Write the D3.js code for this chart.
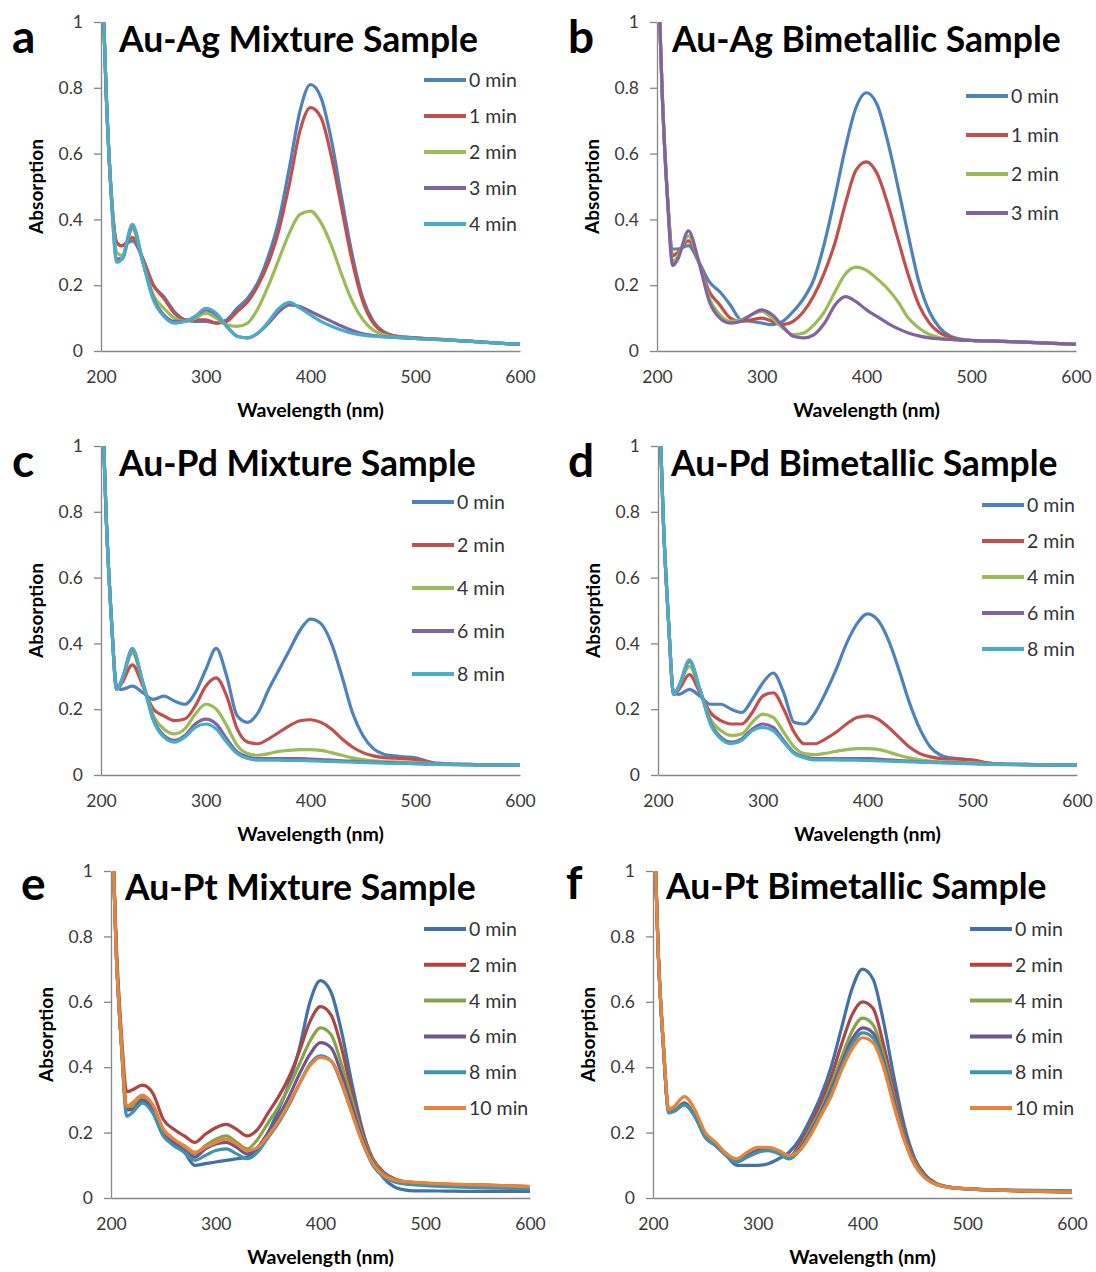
<!DOCTYPE html>
<html>
<head>
<meta charset="utf-8">
<script src="https://cdn.jsdelivr.net/npm/d3@7"></script>
<style>
  body { margin: 0; background: #fff; }
  svg { font-family: Lato, "Open Sans", sans-serif; }
</style>
</head>
<body>
<div id="main"></div>
<script>
// wavelength grid (nm), shared by every spectrum
const wavelength = [200, 205, 210, 215, 220, 230, 240, 250, 260, 270, 280, 290, 300, 310, 320, 330, 340, 350, 360, 370, 380, 390, 400, 410, 420, 430, 440, 450, 460, 470, 480, 490, 500, 520, 550, 600];
const xTicks = [200, 300, 400, 500, 600];
const yTicks = [0, 0.2, 0.4, 0.6, 0.8, 1];

const timesAg = ["0 min", "1 min", "2 min", "3 min", "4 min"];
const timesAgBi = ["0 min", "1 min", "2 min", "3 min"];
const timesPd = ["0 min", "2 min", "4 min", "6 min", "8 min"];
const timesPt = ["0 min", "2 min", "4 min", "6 min", "8 min", "10 min"];

// a: Au-Ag mixture
const auAgMixture = [
  [1.25, 0.78, 0.47, 0.33, 0.32, 0.335, 0.28, 0.20, 0.165, 0.12, 0.095, 0.09, 0.09, 0.085, 0.095, 0.13, 0.16, 0.21, 0.29, 0.40, 0.56, 0.73, 0.81, 0.77, 0.64, 0.46, 0.29, 0.16, 0.09, 0.058, 0.046, 0.042, 0.040, 0.036, 0.030, 0.020],
  [1.25, 0.78, 0.47, 0.33, 0.32, 0.345, 0.28, 0.20, 0.16, 0.115, 0.095, 0.095, 0.095, 0.085, 0.09, 0.12, 0.15, 0.20, 0.27, 0.37, 0.51, 0.67, 0.74, 0.71, 0.59, 0.43, 0.27, 0.15, 0.085, 0.056, 0.045, 0.042, 0.040, 0.036, 0.030, 0.020],
  [1.25, 0.78, 0.47, 0.30, 0.29, 0.37, 0.27, 0.17, 0.13, 0.10, 0.09, 0.10, 0.115, 0.10, 0.08, 0.075, 0.085, 0.13, 0.20, 0.28, 0.36, 0.415, 0.425, 0.39, 0.32, 0.23, 0.15, 0.095, 0.063, 0.049, 0.042, 0.040, 0.038, 0.035, 0.030, 0.020],
  [1.25, 0.78, 0.46, 0.28, 0.28, 0.38, 0.27, 0.16, 0.11, 0.09, 0.09, 0.105, 0.125, 0.11, 0.075, 0.045, 0.04, 0.055, 0.085, 0.12, 0.14, 0.135, 0.12, 0.105, 0.09, 0.075, 0.062, 0.052, 0.047, 0.044, 0.041, 0.040, 0.038, 0.035, 0.030, 0.020],
  [1.25, 0.78, 0.46, 0.27, 0.28, 0.385, 0.27, 0.155, 0.105, 0.085, 0.09, 0.105, 0.13, 0.115, 0.075, 0.045, 0.04, 0.055, 0.09, 0.13, 0.148, 0.13, 0.11, 0.09, 0.075, 0.063, 0.054, 0.048, 0.045, 0.043, 0.041, 0.040, 0.038, 0.035, 0.030, 0.020]
];

// b: Au-Ag bimetallic
const auAgBimetallic = [
  [1.25, 0.78, 0.47, 0.31, 0.31, 0.32, 0.27, 0.21, 0.18, 0.14, 0.095, 0.09, 0.085, 0.08, 0.09, 0.12, 0.16, 0.22, 0.33, 0.47, 0.62, 0.74, 0.785, 0.75, 0.64, 0.50, 0.35, 0.21, 0.12, 0.07, 0.045, 0.036, 0.032, 0.030, 0.027, 0.020],
  [1.25, 0.78, 0.47, 0.29, 0.30, 0.335, 0.27, 0.18, 0.14, 0.10, 0.09, 0.095, 0.10, 0.09, 0.08, 0.09, 0.12, 0.17, 0.24, 0.33, 0.45, 0.55, 0.575, 0.54, 0.45, 0.34, 0.23, 0.14, 0.085, 0.055, 0.042, 0.035, 0.032, 0.030, 0.027, 0.020],
  [1.25, 0.78, 0.47, 0.27, 0.29, 0.35, 0.27, 0.16, 0.11, 0.09, 0.095, 0.11, 0.12, 0.10, 0.07, 0.05, 0.055, 0.08, 0.12, 0.18, 0.235, 0.255, 0.245, 0.22, 0.19, 0.15, 0.10, 0.07, 0.05, 0.04, 0.035, 0.033, 0.032, 0.030, 0.027, 0.020],
  [1.25, 0.78, 0.46, 0.26, 0.28, 0.365, 0.27, 0.15, 0.10, 0.085, 0.09, 0.11, 0.125, 0.11, 0.075, 0.045, 0.04, 0.05, 0.085, 0.14, 0.165, 0.15, 0.125, 0.105, 0.085, 0.068, 0.055, 0.046, 0.04, 0.037, 0.035, 0.033, 0.032, 0.030, 0.027, 0.020]
];

// c: Au-Pd mixture
const auPdMixture = [
  [1.25, 0.78, 0.47, 0.27, 0.26, 0.27, 0.25, 0.23, 0.24, 0.225, 0.215, 0.25, 0.32, 0.385, 0.30, 0.18, 0.16, 0.19, 0.26, 0.32, 0.38, 0.44, 0.474, 0.46, 0.40, 0.30, 0.19, 0.12, 0.08, 0.063, 0.058, 0.055, 0.052, 0.036, 0.032, 0.030],
  [1.25, 0.78, 0.47, 0.26, 0.28, 0.335, 0.27, 0.20, 0.18, 0.165, 0.17, 0.21, 0.27, 0.295, 0.24, 0.14, 0.10, 0.095, 0.11, 0.13, 0.15, 0.165, 0.168, 0.16, 0.14, 0.11, 0.085, 0.068, 0.058, 0.053, 0.051, 0.050, 0.047, 0.035, 0.032, 0.030],
  [1.25, 0.78, 0.47, 0.26, 0.29, 0.37, 0.28, 0.18, 0.14, 0.125, 0.14, 0.185, 0.215, 0.20, 0.15, 0.09, 0.065, 0.06, 0.065, 0.072, 0.075, 0.077, 0.077, 0.075, 0.068, 0.06, 0.052, 0.047, 0.043, 0.041, 0.040, 0.039, 0.038, 0.034, 0.032, 0.030],
  [1.25, 0.78, 0.47, 0.26, 0.29, 0.38, 0.28, 0.17, 0.12, 0.105, 0.12, 0.155, 0.17, 0.155, 0.11, 0.07, 0.055, 0.05, 0.05, 0.05, 0.05, 0.05, 0.048, 0.047, 0.045, 0.043, 0.042, 0.040, 0.039, 0.038, 0.037, 0.036, 0.035, 0.033, 0.031, 0.030],
  [1.25, 0.78, 0.47, 0.26, 0.29, 0.385, 0.28, 0.165, 0.115, 0.10, 0.115, 0.145, 0.155, 0.14, 0.10, 0.065, 0.05, 0.045, 0.045, 0.045, 0.044, 0.044, 0.043, 0.042, 0.041, 0.040, 0.039, 0.038, 0.037, 0.036, 0.035, 0.035, 0.034, 0.032, 0.031, 0.030]
];

// d: Au-Pd bimetallic
const auPdBimetallic = [
  [1.25, 0.78, 0.47, 0.25, 0.245, 0.26, 0.24, 0.215, 0.215, 0.20, 0.19, 0.23, 0.28, 0.31, 0.25, 0.16, 0.155, 0.19, 0.25, 0.32, 0.40, 0.46, 0.49, 0.47, 0.41, 0.32, 0.22, 0.14, 0.085, 0.06, 0.052, 0.048, 0.045, 0.035, 0.032, 0.030],
  [1.25, 0.78, 0.47, 0.245, 0.26, 0.305, 0.25, 0.19, 0.165, 0.155, 0.155, 0.19, 0.24, 0.25, 0.20, 0.13, 0.095, 0.095, 0.11, 0.13, 0.155, 0.175, 0.18, 0.17, 0.145, 0.115, 0.085, 0.065, 0.055, 0.05, 0.048, 0.048, 0.045, 0.035, 0.032, 0.030],
  [1.25, 0.78, 0.47, 0.245, 0.27, 0.33, 0.26, 0.17, 0.135, 0.12, 0.125, 0.16, 0.185, 0.175, 0.13, 0.085, 0.065, 0.062, 0.066, 0.072, 0.077, 0.08, 0.08, 0.078, 0.07, 0.06, 0.052, 0.046, 0.042, 0.040, 0.039, 0.038, 0.037, 0.034, 0.032, 0.030],
  [1.25, 0.78, 0.47, 0.245, 0.27, 0.345, 0.26, 0.16, 0.115, 0.10, 0.11, 0.14, 0.155, 0.145, 0.105, 0.068, 0.055, 0.05, 0.05, 0.05, 0.05, 0.05, 0.05, 0.048, 0.046, 0.044, 0.042, 0.040, 0.039, 0.038, 0.037, 0.036, 0.035, 0.033, 0.031, 0.030],
  [1.25, 0.78, 0.47, 0.245, 0.27, 0.35, 0.26, 0.155, 0.11, 0.095, 0.105, 0.135, 0.145, 0.135, 0.10, 0.065, 0.052, 0.046, 0.046, 0.046, 0.045, 0.045, 0.044, 0.043, 0.042, 0.041, 0.040, 0.039, 0.038, 0.037, 0.036, 0.035, 0.034, 0.032, 0.031, 0.030]
];

// e: Au-Pt mixture
const auPtMixture = [
  [1.25, 0.75, 0.47, 0.27, 0.27, 0.295, 0.26, 0.19, 0.165, 0.14, 0.10, 0.105, 0.11, 0.115, 0.12, 0.125, 0.15, 0.20, 0.27, 0.35, 0.46, 0.60, 0.665, 0.63, 0.51, 0.35, 0.21, 0.115, 0.062, 0.035, 0.025, 0.022, 0.022, 0.021, 0.020, 0.020],
  [1.25, 0.78, 0.50, 0.325, 0.33, 0.345, 0.32, 0.24, 0.21, 0.19, 0.17, 0.195, 0.215, 0.225, 0.21, 0.19, 0.21, 0.26, 0.31, 0.37, 0.45, 0.54, 0.585, 0.56, 0.46, 0.32, 0.20, 0.12, 0.08, 0.06, 0.05, 0.047, 0.045, 0.042, 0.040, 0.035],
  [1.25, 0.75, 0.47, 0.27, 0.28, 0.31, 0.28, 0.21, 0.18, 0.155, 0.135, 0.16, 0.18, 0.19, 0.17, 0.15, 0.18, 0.23, 0.28, 0.34, 0.41, 0.48, 0.52, 0.50, 0.41, 0.30, 0.19, 0.115, 0.075, 0.057, 0.05, 0.047, 0.045, 0.042, 0.040, 0.035],
  [1.25, 0.75, 0.47, 0.27, 0.27, 0.30, 0.27, 0.20, 0.17, 0.145, 0.125, 0.15, 0.165, 0.17, 0.155, 0.135, 0.155, 0.20, 0.25, 0.31, 0.38, 0.44, 0.475, 0.46, 0.38, 0.28, 0.18, 0.11, 0.072, 0.055, 0.048, 0.045, 0.043, 0.040, 0.037, 0.033],
  [1.25, 0.75, 0.46, 0.25, 0.26, 0.29, 0.26, 0.19, 0.16, 0.14, 0.115, 0.13, 0.145, 0.15, 0.135, 0.12, 0.14, 0.185, 0.23, 0.285, 0.35, 0.41, 0.435, 0.42, 0.35, 0.26, 0.17, 0.10, 0.065, 0.05, 0.043, 0.040, 0.038, 0.035, 0.032, 0.028],
  [1.25, 0.75, 0.47, 0.28, 0.29, 0.315, 0.285, 0.21, 0.18, 0.16, 0.14, 0.155, 0.17, 0.18, 0.165, 0.145, 0.155, 0.19, 0.235, 0.29, 0.35, 0.405, 0.43, 0.42, 0.355, 0.26, 0.17, 0.105, 0.07, 0.055, 0.05, 0.048, 0.046, 0.043, 0.040, 0.035]
];

// f: Au-Pt bimetallic
const auPtBimetallic = [
  [1.25, 0.75, 0.46, 0.27, 0.27, 0.285, 0.25, 0.19, 0.16, 0.13, 0.10, 0.10, 0.10, 0.105, 0.12, 0.14, 0.18, 0.24, 0.31, 0.40, 0.52, 0.64, 0.70, 0.67, 0.54, 0.37, 0.22, 0.12, 0.07, 0.045, 0.035, 0.030, 0.028, 0.025, 0.022, 0.018],
  [1.25, 0.75, 0.46, 0.27, 0.27, 0.29, 0.25, 0.19, 0.165, 0.135, 0.115, 0.125, 0.14, 0.15, 0.14, 0.125, 0.165, 0.22, 0.29, 0.37, 0.47, 0.56, 0.60, 0.58, 0.47, 0.33, 0.20, 0.115, 0.068, 0.045, 0.035, 0.030, 0.028, 0.025, 0.022, 0.018],
  [1.25, 0.75, 0.46, 0.265, 0.27, 0.29, 0.25, 0.19, 0.165, 0.135, 0.115, 0.13, 0.145, 0.15, 0.14, 0.125, 0.155, 0.21, 0.27, 0.345, 0.43, 0.51, 0.55, 0.53, 0.44, 0.31, 0.19, 0.11, 0.065, 0.043, 0.035, 0.030, 0.028, 0.025, 0.022, 0.020],
  [1.25, 0.75, 0.46, 0.265, 0.265, 0.29, 0.25, 0.185, 0.16, 0.13, 0.11, 0.13, 0.145, 0.15, 0.14, 0.12, 0.15, 0.20, 0.26, 0.33, 0.41, 0.485, 0.52, 0.505, 0.42, 0.30, 0.185, 0.105, 0.063, 0.042, 0.034, 0.030, 0.028, 0.025, 0.022, 0.020],
  [1.25, 0.75, 0.46, 0.26, 0.265, 0.285, 0.25, 0.185, 0.16, 0.13, 0.11, 0.125, 0.14, 0.145, 0.135, 0.12, 0.145, 0.195, 0.255, 0.32, 0.40, 0.47, 0.505, 0.49, 0.41, 0.29, 0.18, 0.10, 0.062, 0.042, 0.034, 0.030, 0.028, 0.026, 0.024, 0.022],
  [1.25, 0.75, 0.47, 0.27, 0.28, 0.31, 0.27, 0.20, 0.17, 0.135, 0.12, 0.14, 0.155, 0.155, 0.145, 0.13, 0.145, 0.19, 0.25, 0.31, 0.39, 0.455, 0.49, 0.475, 0.40, 0.28, 0.175, 0.10, 0.06, 0.042, 0.034, 0.030, 0.028, 0.025, 0.022, 0.018]
];

const excel07 = ["#4F81BD", "#C0504D", "#9BBB59", "#8064A2", "#4BACC6"];
const excel10 = ["#4470A8", "#AA4644", "#86A34A", "#6E5690", "#3F93AA", "#E8843A"];

// layout of each panel (pixel positions)
const panels = [
  {letter: "a", title: "Au-Ag Mixture Sample", data: auAgMixture, labels: timesAg, colors: excel07,
   x0: 101, x1: 520, yT: 22, yB: 351, lx: 12, ly: 53, tx: 119, ty: 52, legX: 424, legY: 80, legDy: 36},
  {letter: "b", title: "Au-Ag Bimetallic Sample", data: auAgBimetallic, labels: timesAgBi, colors: excel07,
   x0: 657, x1: 1076, yT: 22, yB: 351, lx: 568, ly: 53, tx: 672, ty: 52, legX: 966, legY: 96, legDy: 39},
  {letter: "c", title: "Au-Pd Mixture Sample", data: auPdMixture, labels: timesPd, colors: excel07,
   x0: 101, x1: 520, yT: 446, yB: 775, lx: 12, ly: 477, tx: 119, ty: 476, legX: 412, legY: 502, legDy: 43},
  {letter: "d", title: "Au-Pd Bimetallic Sample", data: auPdBimetallic, labels: timesPd, colors: excel07,
   x0: 658, x1: 1077, yT: 446, yB: 775, lx: 568, ly: 477, tx: 671, ty: 476, legX: 982, legY: 505, legDy: 36},
  {letter: "e", title: "Au-Pt Mixture Sample", data: auPtMixture, labels: timesPt, colors: excel10,
   x0: 111, x1: 530, yT: 871, yB: 1198, lx: 21, ly: 900, tx: 125, ty: 900, legX: 424, legY: 929, legDy: 35.8},
  {letter: "f", title: "Au-Pt Bimetallic Sample", data: auPtBimetallic, labels: timesPt, colors: excel10,
   x0: 653, x1: 1072, yT: 871, yB: 1198, lx: 566, ly: 899, tx: 666, ty: 899, legX: 970, legY: 929, legDy: 35.8}
];

const svg = d3.select("#main").append("svg")
  .attr("width", 1096)
  .attr("height", 1272);

panels.forEach((p, pi) => {
  const x = d3.scaleLinear().domain([200, 600]).range([p.x0, p.x1]);
  const y = d3.scaleLinear().domain([0, 1]).range([p.yB, p.yT]);
  const g = svg.append("g");

  g.append("clipPath").attr("id", "clip-" + pi)
    .append("rect")
    .attr("x", p.x0 - 2).attr("y", p.yT)
    .attr("width", p.x1 - p.x0 + 4).attr("height", p.yB - p.yT + 4);

  // y axis
  const ya = g.append("g")
    .attr("transform", `translate(${p.x0},0)`)
    .call(d3.axisLeft(y).tickValues(yTicks).tickSize(7).tickSizeOuter(0).tickPadding(11)
      .tickFormat(d3.format("~g")));
  // x axis
  const xa = g.append("g")
    .attr("transform", `translate(0,${p.yB})`)
    .call(d3.axisBottom(x).tickValues(xTicks).tickSize(0).tickSizeOuter(0).tickPadding(20));
  [ya, xa].forEach(a => {
    a.select(".domain").attr("stroke", "#868686").attr("stroke-width", 1.3);
    a.selectAll(".tick line").attr("stroke", "#868686").attr("stroke-width", 1.3);
    a.selectAll("text").attr("fill", "#3a3a3a").style("font-size", "17.5px")
      .style("font-family", "Lato, sans-serif");
  });

  // spectra
  const line = d3.line()
    .x((d, i) => x(wavelength[i]))
    .y(d => y(d))
    .curve(d3.curveMonotoneX);
  g.append("g").attr("clip-path", `url(#clip-${pi})`)
    .selectAll("path")
    .data(p.data)
    .enter()
    .append("path")
    .attr("d", line)
    .attr("fill", "none")
    .attr("stroke", (d, i) => p.colors[i])
    .attr("stroke-width", 3.2)
    .attr("stroke-linejoin", "round");

  // legend
  const leg = g.selectAll(".leg")
    .data(p.labels)
    .enter()
    .append("g")
    .attr("transform", (d, i) => `translate(${p.legX},${p.legY + i * p.legDy})`);
  leg.append("line")
    .attr("x1", 0).attr("x2", 42)
    .attr("stroke", (d, i) => p.colors[i])
    .attr("stroke-width", 4);
  leg.append("text")
    .attr("x", 45).attr("dy", "0.36em")
    .style("font-size", "19.5px")
    .attr("fill", "#333")
    .text(d => d);

  // titles
  g.append("text")
    .attr("x", p.lx).attr("y", p.ly)
    .style("font-size", "46px").style("font-weight", "bold")
    .text(p.letter);
  g.append("text")
    .attr("x", p.tx).attr("y", p.ty)
    .style("font-size", "35.5px").style("font-weight", "bold")
    .text(p.title);
  g.append("text")
    .attr("transform", `translate(${p.x0 - 58},${(p.yT + p.yB) / 2}) rotate(-90)`)
    .attr("text-anchor", "middle")
    .style("font-size", "19px").style("font-weight", "bold")
    .text("Absorption");
  g.append("text")
    .attr("x", (p.x0 + p.x1) / 2).attr("y", p.yB + 66)
    .attr("text-anchor", "middle")
    .style("font-size", "19.5px").style("font-weight", "bold")
    .text("Wavelength (nm)");
});
</script>
</body>
</html>
